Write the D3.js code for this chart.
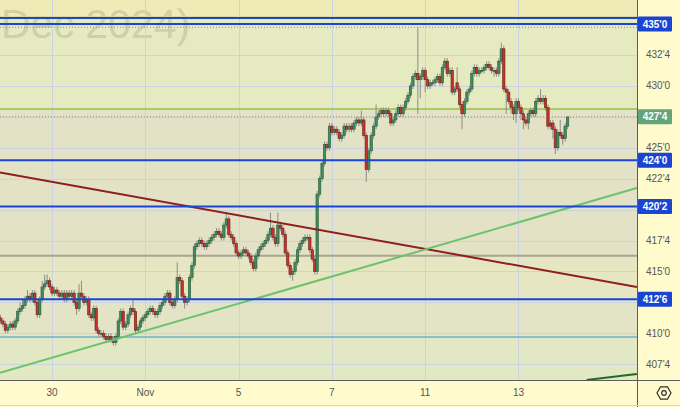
<!doctype html>
<html>
  <head>
    <meta charset="utf-8">
    <script src="https://cdn.jsdelivr.net/npm/d3@7"></script>
    <style>
      body {
        margin: 0;
        background-color: #fffbcc;
      }
      svg {
        display: block;
        font-family: "Liberation Sans", Arial, sans-serif;
      }
      .tick-label {
        fill: #555;
        font-size: 10px;
      }
      .box-label {
        fill: white;
        font-size: 10px;
        font-weight: bold;
      }
    </style>
  </head>
  <body>
    <svg id="chart"></svg>
  <script>

    // hourly bars, Oct 29 evening .. Nov 14 (ZC Dec 2024)
    const open = [
      411.25, 411.0, 410.75, 410.25, 410.5, 410.75, 410.5, 411.0, 411.75, 412.0,
      412.25, 412.75, 413.0, 412.75, 413.25, 412.5, 411.5, 412.75, 413.75, 414.0,
      414.25, 413.75, 413.25, 413.5, 413.25, 413.0, 413.25, 412.75, 413.25, 413.0,
      413.25, 412.5, 412.0, 413.25, 413.0, 412.5, 412.75, 411.5, 411.25, 412.0,
      410.25, 410.0, 410.0, 409.75, 409.5, 409.75, 409.5, 409.25, 409.75, 411.0,
      411.75, 410.5, 410.75, 411.5, 412.0, 411.75, 410.25, 410.5, 411.0, 411.25,
      411.5, 411.75, 412.0, 411.75, 411.5, 411.75, 412.25, 412.5, 413.0, 413.25,
      412.5, 412.25, 412.75, 414.5, 414.25, 413.0, 412.5, 412.75, 414.5, 415.5,
      417.0, 417.25, 417.5, 417.25, 417.0, 417.25, 417.5, 417.75, 418.0, 418.25,
      418.0, 417.75, 418.75, 419.25, 418.0, 417.75, 417.25, 416.5, 416.25, 416.5,
      416.75, 416.5, 416.25, 415.75, 415.25, 416.25, 416.75, 417.0, 417.25, 417.5,
      418.0, 418.5, 417.75, 417.25, 418.75, 418.5, 418.0, 416.5, 415.5, 414.75,
      415.0, 415.75, 416.75, 417.25, 417.5, 417.75, 417.75, 416.75, 416.0, 415.0,
      421.25, 422.5, 423.75, 425.25, 425.0, 426.75, 426.25, 426.5, 426.25, 425.75,
      426.0, 426.75, 426.5, 426.75, 426.5, 427.0, 427.25, 427.0, 427.25, 426.0,
      423.25, 424.75, 426.0, 426.75, 427.5, 427.75, 428.0, 427.75, 428.0, 427.75,
      427.0, 427.25, 427.75, 428.25, 427.75, 428.25, 428.75, 429.25, 430.0, 430.75,
      431.0, 430.5, 430.75, 431.25, 430.5, 430.0, 430.25, 430.25, 430.5, 430.75,
      430.25, 431.5, 432.0, 431.0, 431.25, 429.5, 430.25, 429.75, 428.5, 427.75,
      428.75, 429.5, 429.75, 431.0, 431.5, 431.0, 431.25, 431.25, 431.5, 431.75,
      431.5, 431.25, 431.25, 431.0, 432.0, 433.0, 429.75, 429.5, 428.75, 428.25,
      427.75, 428.75, 428.25, 427.75, 427.25, 427.0, 427.75, 428.0, 427.75, 428.75,
      429.0, 428.75, 429.0, 428.25, 427.0, 427.0, 426.5, 425.0, 426.25, 426.0,
      425.75, 426.75
    ]
    const high = [
      411.5, 411.25, 411.0, 410.75, 411.0, 411.0, 411.25, 412.0, 412.5, 412.75,
      413.0, 413.5, 413.25, 413.5, 413.5, 412.75, 413.0, 414.25, 414.75, 414.75,
      414.5, 414.0, 413.75, 413.75, 413.5, 413.5, 413.5, 413.5, 413.5, 413.5,
      413.5, 412.75, 414.0, 414.25, 413.25, 413.0, 413.0, 411.75, 412.25, 412.25,
      410.5, 410.25, 410.25, 410.0, 410.0, 410.0, 409.75, 410.0, 411.25, 412.0,
      412.0, 411.0, 411.75, 412.25, 412.75, 412.0, 410.75, 411.25, 411.5, 411.75,
      412.0, 412.25, 412.25, 412.0, 412.0, 412.5, 412.75, 413.25, 413.5, 413.5,
      412.75, 413.0, 415.75, 414.75, 414.5, 413.25, 413.0, 414.75, 415.75, 417.25,
      417.5, 417.75, 417.75, 417.5, 417.5, 417.75, 418.0, 418.25, 418.5, 418.5,
      418.25, 419.0, 419.75, 419.5, 418.25, 418.0, 417.5, 416.75, 416.75, 417.0,
      417.0, 416.75, 416.5, 416.0, 416.5, 417.0, 417.25, 417.5, 417.75, 418.25,
      419.75, 418.75, 418.0, 419.75, 419.0, 418.75, 418.25, 416.75, 415.75, 415.25,
      416.0, 417.0, 417.5, 417.75, 418.0, 418.0, 418.0, 417.0, 416.25, 421.5,
      422.75, 424.0, 425.5, 425.5, 427.0, 427.0, 426.75, 426.75, 426.5, 426.25,
      427.0, 427.0, 427.0, 427.0, 427.25, 427.5, 427.5, 428.0, 427.5, 426.25,
      425.0, 426.25, 427.0, 428.5, 428.0, 428.25, 428.25, 428.25, 428.25, 428.0,
      427.5, 428.0, 428.5, 428.5, 428.5, 429.0, 429.5, 430.25, 431.0, 431.25,
      434.75, 431.0, 431.5, 431.5, 430.75, 430.5, 430.5, 430.75, 431.0, 431.0,
      431.75, 432.25, 432.25, 431.5, 431.5, 430.0, 431.5, 430.0, 428.75, 429.0,
      429.75, 430.0, 431.25, 431.75, 431.75, 431.5, 431.5, 431.75, 432.0, 432.0,
      431.75, 431.5, 431.5, 432.25, 433.5, 433.25, 430.0, 429.75, 429.0, 428.5,
      429.0, 429.0, 428.5, 428.0, 427.5, 428.0, 428.25, 428.25, 429.0, 429.25,
      429.75, 429.25, 429.25, 428.5, 427.25, 427.25, 426.75, 426.5, 427.25, 426.25,
      427.0, 427.5
    ]
    const low = [
      410.75, 410.5, 410.0, 410.0, 410.25, 410.25, 410.25, 410.75, 411.5, 411.75,
      412.0, 412.5, 412.5, 412.5, 412.25, 411.25, 411.25, 412.5, 413.5, 413.75,
      413.5, 413.0, 413.0, 413.0, 412.75, 412.75, 412.5, 412.5, 412.75, 412.75,
      412.25, 411.5, 411.75, 412.75, 412.25, 412.25, 411.25, 411.0, 411.0, 410.0,
      409.75, 409.75, 409.5, 409.25, 409.25, 409.25, 409.0, 409.0, 409.5, 410.75,
      410.25, 410.25, 410.5, 411.25, 411.5, 410.0, 410.0, 410.25, 410.75, 411.0,
      411.25, 411.5, 411.5, 411.25, 411.25, 411.5, 412.0, 412.25, 412.75, 412.25,
      412.0, 412.0, 412.5, 414.0, 412.75, 412.0, 412.25, 412.5, 414.25, 415.25,
      416.75, 417.0, 417.0, 416.75, 416.75, 417.0, 417.25, 417.5, 417.75, 417.75,
      417.5, 417.5, 418.5, 417.75, 417.5, 417.0, 416.25, 416.0, 416.0, 416.25,
      416.25, 416.0, 415.5, 415.0, 415.0, 416.0, 416.5, 416.75, 417.0, 417.25,
      417.75, 417.5, 417.0, 417.0, 418.25, 417.75, 416.25, 415.25, 414.5, 414.25,
      414.75, 415.5, 416.5, 417.0, 417.25, 417.5, 416.5, 415.75, 414.75, 414.75,
      421.0, 422.25, 423.5, 424.75, 424.75, 426.0, 426.0, 426.0, 425.5, 425.5,
      425.75, 426.25, 426.25, 426.25, 426.25, 426.75, 426.75, 426.75, 425.75, 422.25,
      423.0, 424.5, 425.75, 426.5, 427.25, 427.5, 427.5, 427.5, 427.5, 426.75,
      426.75, 427.0, 427.5, 427.5, 427.5, 428.0, 428.5, 429.0, 429.75, 430.5,
      427.75, 429.0, 430.5, 429.5, 429.75, 429.75, 430.0, 430.0, 430.25, 430.0,
      430.0, 431.25, 430.75, 430.75, 429.25, 429.25, 429.5, 428.25, 426.5, 427.5,
      428.5, 429.25, 429.5, 430.75, 430.75, 430.75, 431.0, 431.0, 431.25, 431.25,
      431.0, 430.75, 430.75, 430.75, 431.75, 429.5, 427.75, 428.5, 427.75, 427.25,
      427.0, 428.0, 427.25, 426.5, 426.75, 426.5, 427.5, 427.5, 427.5, 428.5,
      428.5, 428.5, 428.0, 426.5, 426.5, 425.75, 424.5, 424.75, 425.75, 425.25,
      425.5, 426.5
    ]
    const close = [
      411.0, 410.75, 410.25, 410.5, 410.75, 410.5, 411.0, 411.75, 412.0, 412.25,
      412.75, 413.0, 412.75, 413.25, 412.5, 411.5, 412.75, 413.75, 414.0, 414.25,
      413.75, 413.25, 413.5, 413.25, 413.0, 413.25, 412.75, 413.25, 413.0, 413.25,
      412.5, 412.0, 413.25, 413.0, 412.5, 412.75, 411.5, 411.25, 412.0, 410.25,
      410.0, 410.0, 409.75, 409.5, 409.75, 409.5, 409.25, 409.75, 411.0, 411.75,
      410.5, 410.75, 411.5, 412.0, 411.75, 410.25, 410.5, 411.0, 411.25, 411.5,
      411.75, 412.0, 411.75, 411.5, 411.75, 412.25, 412.5, 413.0, 413.25, 412.5,
      412.25, 412.75, 414.5, 414.25, 413.0, 412.5, 412.75, 414.5, 415.5, 417.0,
      417.25, 417.5, 417.25, 417.0, 417.25, 417.5, 417.75, 418.0, 418.25, 418.0,
      417.75, 418.75, 419.25, 418.0, 417.75, 417.25, 416.5, 416.25, 416.5, 416.75,
      416.5, 416.25, 415.75, 415.25, 416.25, 416.75, 417.0, 417.25, 417.5, 418.0,
      418.5, 417.75, 417.25, 418.75, 418.5, 418.0, 416.5, 415.5, 414.75, 415.0,
      415.75, 416.75, 417.25, 417.5, 417.75, 417.75, 416.75, 416.0, 415.0, 421.25,
      422.5, 423.75, 425.25, 425.0, 426.75, 426.25, 426.5, 426.25, 425.75, 426.0,
      426.75, 426.5, 426.75, 426.5, 427.0, 427.25, 427.0, 427.25, 426.0, 423.25,
      424.75, 426.0, 426.75, 427.5, 427.75, 428.0, 427.75, 428.0, 427.75, 427.0,
      427.25, 427.75, 428.25, 427.75, 428.25, 428.75, 429.25, 430.0, 430.75, 431.0,
      430.5, 430.75, 431.25, 430.5, 430.0, 430.25, 430.25, 430.5, 430.75, 430.25,
      431.5, 432.0, 431.0, 431.25, 429.5, 429.75, 429.75, 428.5, 427.75, 428.75,
      429.5, 429.75, 431.0, 431.5, 431.0, 431.25, 431.25, 431.5, 431.75, 431.5,
      431.25, 431.25, 431.0, 432.0, 433.0, 429.75, 429.5, 428.75, 428.25, 427.75,
      428.75, 428.25, 427.75, 427.25, 427.0, 427.75, 428.0, 427.75, 428.75, 429.0,
      428.75, 429.0, 428.25, 426.75, 426.75, 426.5, 425.0, 426.25, 426.0, 425.75,
      426.75, 427.5
    ]

    // session starts (bar index) for the date grid
    const dayTicks = [21, 59, 97, 135, 173, 211]
    const dayLabels = ["30", "Nov", "5", "7", "11", "13"]
    const priceTicks = [435, 432.5, 430, 427.5, 425, 422.5, 420, 417.5, 415, 412.5, 410, 407.5]

    const blueLevels = [435.5, 435, 424, 420.25, 412.75]
    const boxedLevels = [435, 424, 420.25, 412.75]
    const lastPrice = 427.5
    const sessionHigh = 434.75
    const zoneEdges = [437, 435.6, 428.125, 416.27, 412.75, 409.7, 406]

    // drawn trend lines: [barIndex, price] pairs
    const redLine = [[-0.2, 423.0], [259.2, 413.75]]
    const greenLine = [[-0.2, 406.8], [259.2, 421.75]]
    const darkGreenLine = [[238.7, 406.23], [259.2, 406.71]]

    const zoneColors = ['#eeebb6', '#e5eac0', '#e3e2c6', '#e7e6c3', '#e3e4c6', '#e2e8c4']

    const width = 680, height = 407
    const plotW = 637, plotH = 380

    const svg = d3.select("#chart")
      .attr("width", width)
      .attr("height", height)

    svg.append("rect")
      .attr("width", width)
      .attr("height", height)
      .attr("fill", "#fffbcc")

    const x = d3.scaleLinear().domain([0, close.length - 1]).range([0.45, 567.6])
    const y = d3.scaleLinear().domain([406.226, 436.946]).range([plotH, 0])

    svg.append("clipPath")
        .attr("id", "plot-clip")
      .append("rect")
        .attr("width", plotW)
        .attr("height", plotH)

    const plot = svg.append("g").attr("clip-path", "url(#plot-clip)")

    // background zones
    plot.selectAll(".zone")
      .data(zoneColors)
      .enter().append("rect")
        .attr("x", 0)
        .attr("width", plotW)
        .attr("y", (d, i) => y(zoneEdges[i]))
        .attr("height", (d, i) => y(zoneEdges[i + 1]) - y(zoneEdges[i]))
        .attr("fill", d => d)

    // watermark
    plot.append("text")
      .attr("x", 1)
      .attr("y", 37.5)
      .attr("font-size", 41)
      .attr("fill", "#8f8f78")
      .attr("opacity", 0.28)
      .text("Dec 2024)")

    // grid
    plot.selectAll(".hgrid")
      .data(priceTicks)
      .enter().append("line")
        .attr("x1", 0).attr("x2", plotW)
        .attr("y1", d => Math.round(y(d)) + 0.5)
        .attr("y2", d => Math.round(y(d)) + 0.5)
        .attr("stroke", "#c9d3e2")

    plot.selectAll(".vgrid")
      .data(dayTicks)
      .enter().append("line")
        .attr("y1", 0).attr("y2", plotH)
        .attr("x1", d => Math.round(x(d)) + 0.5)
        .attr("x2", d => Math.round(x(d)) + 0.5)
        .attr("stroke", "#c9d3e2")

    // zone borders
    const hline = (price, color, w, dash) => {
      plot.append("line")
        .attr("x1", 0).attr("x2", plotW)
        .attr("y1", y(price)).attr("y2", y(price))
        .attr("stroke", color)
        .attr("stroke-width", w)
        .attr("stroke-dasharray", dash || null)
    }
    hline(zoneEdges[1], "#d9d68a", 1)
    hline(zoneEdges[2], "#a9cc5e", 2)
    hline(zoneEdges[3], "#a8a592", 2)
    hline(zoneEdges[5], "#6fb3c9", 1.5)

    // candles
    const bars = close.map((c, i) => ({ i: i, o: open[i], h: high[i], l: low[i], c: c }))

    const candle = plot.append("g").selectAll("g")
      .data(bars)
      .enter().append("g")

    candle.append("line")
      .attr("x1", d => x(d.i)).attr("x2", d => x(d.i))
      .attr("y1", d => y(d.h)).attr("y2", d => y(d.l))
      .attr("stroke", "#8c8c8c")
      .attr("stroke-width", 1)

    candle.append("rect")
      .attr("x", d => x(d.i) - 1.2)
      .attr("width", 2.4)
      .attr("y", d => y(Math.max(d.o, d.c)))
      .attr("height", d => Math.max(1, Math.abs(y(d.o) - y(d.c))))
      .attr("fill", d => d.c >= d.o ? "#3f8c5e" : "#c6342a")
      .attr("stroke", d => d.c >= d.o ? "#285c3c" : "#6e1c15")
      .attr("stroke-width", 0.6)

    // dotted price lines
    hline(sessionHigh, "#8a8a8a", 1, "1,2")
    hline(lastPrice, "#8a8a8a", 1, "1,2")

    // trend lines
    const line = d3.line().x(d => x(d[0])).y(d => y(d[1]))
    plot.append("path").attr("d", line(redLine))
      .attr("fill", "none").attr("stroke", "#8e1f1f").attr("stroke-width", 2)
    plot.append("path").attr("d", line(greenLine))
      .attr("fill", "none").attr("stroke", "#6cc36c").attr("stroke-width", 2)
    plot.append("path").attr("d", line(darkGreenLine))
      .attr("fill", "none").attr("stroke", "#1f6b22").attr("stroke-width", 2)

    // blue levels
    blueLevels.forEach(p => hline(p, "#1b46d4", 2))

    // axes frame
    svg.append("line")
      .attr("x1", plotW + 0.5).attr("x2", plotW + 0.5)
      .attr("y1", 0).attr("y2", height)
      .attr("stroke", "#5c5c5c")
    svg.append("line")
      .attr("x1", 0).attr("x2", width)
      .attr("y1", plotH + 0.5).attr("y2", plotH + 0.5)
      .attr("stroke", "#5c5c5c")
    svg.append("line")
      .attr("x1", 0).attr("x2", width)
      .attr("y1", height - 1.5).attr("y2", height - 1.5)
      .attr("stroke", "#d8d6c0")

    const fmt = p => {
      const whole = Math.floor(p)
      return whole + "'" + Math.round((p - whole) * 8)
    }

    // price axis; ticks sitting under a level box are not shown
    const boxed = boxedLevels.concat([lastPrice])
    const visibleTicks = priceTicks.filter(t => boxed.every(b => Math.abs(y(t) - y(b)) > 8))

    svg.selectAll(".ytick")
      .data(visibleTicks)
      .enter().append("text")
        .attr("class", "tick-label")
        .attr("x", 646)
        .attr("y", d => y(d))
        .attr("dy", "0.35em")
        .text(fmt)

    const boxes = svg.selectAll(".ybox")
      .data(boxedLevels.map(p => ({ p: p, color: "#1a45d3" })).concat([{ p: lastPrice, color: "#64a47c" }]))
      .enter().append("g")
        .attr("transform", d => "translate(638," + y(d.p) + ")")

    boxes.append("rect")
      .attr("y", -7.5)
      .attr("width", 34)
      .attr("height", 15)
      .attr("rx", 1)
      .attr("fill", d => d.color)

    boxes.append("text")
      .attr("class", "box-label")
      .attr("x", 17)
      .attr("dy", "0.35em")
      .attr("text-anchor", "middle")
      .text(d => fmt(d.p))

    // date axis
    svg.selectAll(".xtick")
      .data(dayTicks)
      .enter().append("text")
        .attr("class", "tick-label")
        .attr("x", d => x(d))
        .attr("y", 396)
        .attr("text-anchor", "middle")
        .text((d, i) => dayLabels[i])

    // settings icon
    const hex = d3.range(6).map(k => [664 + 7 * Math.cos(k * Math.PI / 3), 393 + 7 * Math.sin(k * Math.PI / 3)])
    svg.append("path")
      .attr("d", "M" + hex.join("L") + "Z")
      .attr("fill", "none")
      .attr("stroke", "#333")
      .attr("stroke-width", 1.2)
    svg.append("circle")
      .attr("cx", 664).attr("cy", 393).attr("r", 2.3)
      .attr("fill", "none")
      .attr("stroke", "#333")
      .attr("stroke-width", 1.2)

  </script>
  </body>
</html>
